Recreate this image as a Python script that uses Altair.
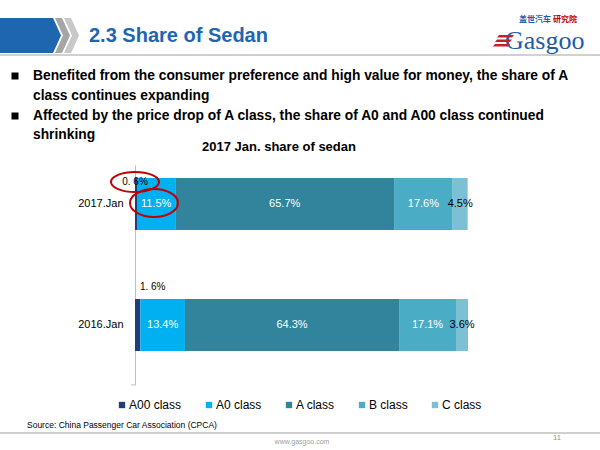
import altair as alt
import pandas as pd

# ---------------- data ----------------
periods = ["2017.Jan", "2016.Jan"]
classes = ["A00 class", "A0 class", "A class", "B class", "C class"]
share_2017 = [0.6, 11.5, 65.7, 17.6, 4.5]
share_2016 = [1.6, 13.4, 64.3, 17.1, 3.6]
colors = ["#1F3F77", "#00B0F0", "#31849B", "#4BACC6", "#7CC0D5"]

slide_title = "2.3 Share of Sedan"
bullet_lines = [
    "Benefited from the consumer preference and high value for money, the share of A",
    "class continues expanding",
    "Affected by the price drop of A class, the share of A0 and A00 class continued",
    "shrinking",
]
chart_title = "2017 Jan. share of sedan"
source_text = "Source: China Passenger Car Association (CPCA)"
footer_url = "www.gasgoo.com"
page_no = "11"

rows = []
for p, vals in zip(periods, [share_2017, share_2016]):
    for i, (c, v) in enumerate(zip(classes, vals)):
        lab = f"{v}%"
        if i == 0:
            lab = lab.replace(".", ". ")
        rows.append({"period": p, "cls": c, "order": i, "share": v, "label": lab})
df = pd.DataFrame(rows)

FONT = "Liberation Sans"
L, T, W, H = 135, 165, 333, 220


def px(x):
    return x - L


def py(y):
    return y - T


one = pd.DataFrame({"k": [0]})

x_enc = alt.X("mid:Q", scale=alt.Scale(domain=[0, 100]), axis=None)
y_enc = alt.Y(
    "period:N",
    sort=periods,
    scale=alt.Scale(domain=periods, paddingInner=0.57, paddingOuter=0.194, align=0.277),
    axis=alt.Axis(
        title=None, ticks=False, grid=False, domainColor="#BFBFBF", domainWidth=1,
        labelFont=FONT, labelFontSize=11, labelColor="black", labelPadding=12,
    ),
)

stacked = (
    alt.Chart(df)
    .transform_stack(stack="share", groupby=["period"], as_=["x0", "x1"],
                     sort=[alt.SortField("order", order="ascending")])
    .transform_calculate(mid="(datum.x0 + datum.x1) / 2")
)

bars = stacked.mark_bar(size=52).encode(
    x=alt.X("x0:Q", scale=alt.Scale(domain=[0, 100]), axis=None),
    x2="x1:Q",
    y=y_enc,
    color=alt.Color(
        "cls:N", sort=classes, scale=alt.Scale(domain=classes, range=colors),
        legend=alt.Legend(
            title=None, orient="none", direction="horizontal", columns=5,
            legendX=px(116), legendY=py(399), symbolType="square", symbolSize=40,
            symbolStrokeWidth=0, labelFont=FONT, labelFontSize=12, labelColor="black",
            columnPadding=21, labelOffset=1, padding=0, labelLimit=200,
        ),
    ),
)

white_labels = stacked.transform_filter("datum.order >= 1 && datum.order <= 3").mark_text(
    font=FONT, fontSize=11, color="white", align="center", baseline="middle"
).encode(x=x_enc, y=y_enc, text="label:N")

c_labels = stacked.transform_filter("datum.order == 4").mark_text(
    font=FONT, fontSize=11, color="black", align="center", baseline="middle"
).encode(x=x_enc, y=y_enc, text="label:N")

a00_2017 = stacked.transform_filter("datum.order == 0 && datum.period == '2017.Jan'").mark_text(
    font=FONT, fontSize=10, color="black", align="center", baseline="middle", dx=-1, dy=-22
).encode(x=x_enc, y=y_enc, text="label:N")

a00_2016 = stacked.transform_filter("datum.order == 0 && datum.period == '2016.Jan'").mark_text(
    font=FONT, fontSize=10, color="black", align="center", baseline="middle", dx=15, dy=-38
).encode(x=x_enc, y=y_enc, text="label:N")


def txt(s, x, y, size, color="black", bold=False, align="left", font=FONT):
    return alt.Chart(one).mark_text(
        text=s, font=font, fontSize=size, color=color,
        fontWeight="bold" if bold else "normal", align=align, baseline="middle",
    ).encode(x=alt.value(px(x)), y=alt.value(py(y)))


def shape(path, fill=None, stroke=None, sw=1):
    kw = dict(shape=path, size=4, opacity=1)
    if fill:
        kw.update(filled=True, fill=fill, strokeWidth=0)
    else:
        kw.update(filled=False, stroke=stroke, strokeWidth=sw)
    return alt.Chart(one).mark_point(**kw).encode(x=alt.value(px(0)), y=alt.value(py(0)))


def hrule(x1, x2, y, color, sw):
    return alt.Chart(one).mark_rule(color=color, strokeWidth=sw).encode(
        x=alt.value(px(x1)), x2=alt.value(px(x2)), y=alt.value(py(y))
    )


def ellipse(cx, cy, rx, ry):
    path = f"M{cx-rx},{cy} A{rx},{ry} 0 1,1 {cx+rx},{cy} A{rx},{ry} 0 1,1 {cx-rx},{cy} Z"
    return shape(path, stroke="#C00000", sw=2)


layers = [bars, white_labels, c_labels, a00_2017, a00_2016]

# axis bottom hook
layers.append(hrule(131, 135, 385, "#BFBFBF", 1))

# header
layers.append(shape("M0,18 L53,18 L61,35.5 L53,53 L0,53 Z", fill="#1F66B0"))
layers.append(shape("M55,18 L62,18 L70,35.5 L62,53 L55,53 L63,35.5 Z", fill="#A6A6A6"))
layers.append(shape("M64,18 L71,18 L79,35.5 L71,53 L64,53 L72,35.5 Z", fill="#C8C8C8"))
layers.append(hrule(0, 600, 55, "#D0D0D0", 2))
layers.append(txt(slide_title, 89, 36, 20, color="#1F66B0", bold=True))

# logo
layers.append(txt("Gasgoo", 505, 41, 26, color="#1F5CA8", font="Liberation Serif"))
layers.append(txt("盖世汽车", 519, 20, 8, color="#1F5CA8", bold=True, font="Noto Sans CJK SC"))
layers.append(txt("研究院", 553, 20, 8, color="#C00000", bold=True, font="Noto Sans CJK SC"))
layers.append(shape("M499,35 L514,35 L512,37.5 L497,37.5 Z M497,39.5 L512,39.5 L510,42 L495,42 Z M495,44 L510,44 L508,46.5 L493,46.5 Z", fill="#C8202A"))

# bullets
bullet_y = [76, 96, 116, 135]
for i, (line, yy) in enumerate(zip(bullet_lines, bullet_y)):
    if i in (0, 2):
        layers.append(
            alt.Chart(one).mark_square(size=49, color="black", opacity=1).encode(
                x=alt.value(px(15)), y=alt.value(py(yy))
            )
        )
    layers.append(txt(line, 33, yy, 13.8, bold=True))

layers.append(txt(chart_title, 279, 147, 13, bold=True, align="center"))

# ellipses
layers.append(ellipse(135, 182, 24, 10))
layers.append(ellipse(154, 203, 24, 14))

# footer
layers.append(txt(source_text, 27, 425, 8.5))
layers.append(hrule(0, 600, 433, "#BFBFBF", 1.5))
layers.append(txt(footer_url, 302, 442, 7, color="#A0A0A0", align="center"))
layers.append(txt(page_no, 557, 438, 7.5, color="#909090", align="center"))

chart = (
    alt.layer(*layers)
    .properties(
        width=W, height=H, autosize="none", background="white",
        padding={"left": L, "top": T, "right": 600 - L - W, "bottom": 450 - T - H},
    )
    .configure_view(stroke=None)
)

chart.save("out.html", embed_options={"renderer": "svg", "actions": False})
